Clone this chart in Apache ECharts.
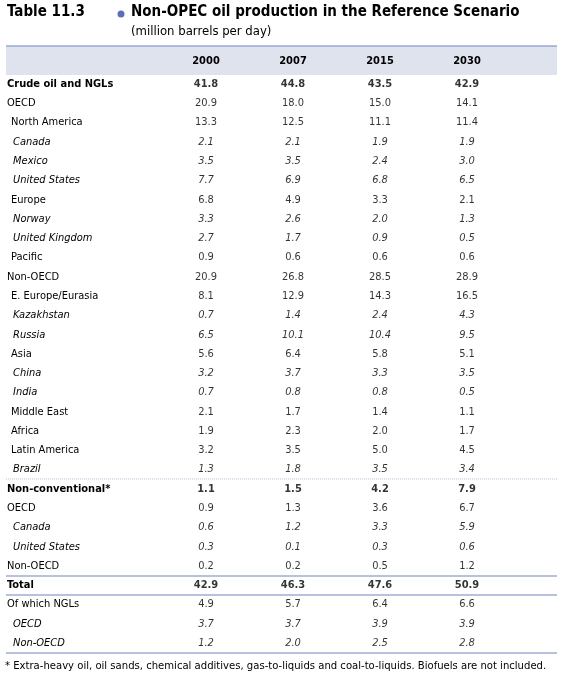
<!DOCTYPE html>
<html><head><meta charset="utf-8">
<script src="https://cdn.jsdelivr.net/npm/echarts@6/dist/echarts.min.js"></script>
<style>html,body{margin:0;padding:0;background:#fff}#c{width:571px;height:685px}</style>
</head><body><div id="c"></div>
<script>
// table data
const years = ['2000', '2007', '2015', '2030'];
const rows = ['Crude oil and NGLs', 'OECD', 'North America', 'Canada', 'Mexico', 'United States',
  'Europe', 'Norway', 'United Kingdom', 'Pacific', 'Non-OECD', 'E. Europe/Eurasia', 'Kazakhstan',
  'Russia', 'Asia', 'China', 'India', 'Middle East', 'Africa', 'Latin America', 'Brazil',
  'Non-conventional*', 'OECD', 'Canada', 'United States', 'Non-OECD', 'Total',
  'Of which NGLs', 'OECD', 'Non-OECD'];
// 0 = plain, 1 = bold, 2 = indented, 3 = indented italic
const rowStyle = [1, 0, 2, 3, 3, 3, 2, 3, 3, 2, 0, 2, 3, 3, 2, 3, 3, 2, 2, 2, 3,
  1, 0, 3, 3, 0, 1, 0, 3, 3];
const v2000 = ['41.8','20.9','13.3','2.1','3.5','7.7','6.8','3.3','2.7','0.9','20.9','8.1','0.7','6.5','5.6','3.2','0.7','2.1','1.9','3.2','1.3','1.1','0.9','0.6','0.3','0.2','42.9','4.9','3.7','1.2'];
const v2007 = ['44.8','18.0','12.5','2.1','3.5','6.9','4.9','2.6','1.7','0.6','26.8','12.9','1.4','10.1','6.4','3.7','0.8','1.7','2.3','3.5','1.8','1.5','1.3','1.2','0.1','0.2','46.3','5.7','3.7','2.0'];
const v2015 = ['43.5','15.0','11.1','1.9','2.4','6.8','3.3','2.0','0.9','0.6','28.5','14.3','2.4','10.4','5.8','3.3','0.8','1.4','2.0','5.0','3.5','4.2','3.6','3.3','0.3','0.5','47.6','6.4','3.9','2.5'];
const v2030 = ['42.9','14.1','11.4','1.9','3.0','6.5','2.1','1.3','0.5','0.6','28.9','16.5','4.3','9.5','5.1','3.5','0.5','1.1','1.7','4.5','3.4','7.9','6.7','5.9','0.6','1.2','50.9','6.6','3.9','2.8'];
const cols = [v2000, v2007, v2015, v2030];

const F = '"DejaVu Sans Condensed", "DejaVu Sans", sans-serif';
const styleKey = ['p', 'b', 'i', 'it'];
const cells = [];
cols.forEach((col, ci) => col.forEach((v, ri) => {
  cells.push({ value: [ci, ri], label: {
    formatter: v,
    fontWeight: rowStyle[ri] === 1 ? 'bold' : 'normal',
    fontStyle: rowStyle[ri] === 3 ? 'italic' : 'normal' } });
}));

const blue = '#6f86c0';
const chart = echarts.init(document.getElementById('c'));
chart.setOption({
  animation: false,
  grid: { left: 162.5, top: 74.4, width: 348, height: 578.4 },
  xAxis: { type: 'category', data: years, position: 'top',
    axisLine: { show: false }, axisTick: { show: false },
    axisLabel: { margin: 8, fontFamily: F, fontSize: 11, fontWeight: 'bold', color: '#000' } },
  yAxis: { type: 'category', data: rows.map((r, i) => i), inverse: true,
    axisLine: { show: false }, axisTick: { show: false },
    axisLabel: { align: 'left', margin: 155.5, fontFamily: F, fontSize: 11, color: '#000',
      formatter: (i) => '{' + styleKey[rowStyle[i]] + '|' + rows[i] + '}',
      rich: {
        p: { fontFamily: F, fontSize: 11 },
        b: { fontFamily: F, fontSize: 11, fontWeight: 'bold' },
        i: { fontFamily: F, fontSize: 11, padding: [0, 0, 0, 4] },
        it: { fontFamily: F, fontSize: 11, fontStyle: 'italic', padding: [0, 0, 0, 6] }
      } } },
  series: [{ type: 'scatter', symbolSize: 0, data: cells, z: 10,
    label: { show: true, position: 'inside', fontFamily: F, fontSize: 11, color: '#000' } }],
  graphic: [
    { type: 'text', left: 7, top: 5, style: { text: 'Table 11.3', font: 'bold 15px ' + F, fill: '#000' } },
    { type: 'circle', shape: { cx: 121, cy: 14, r: 3.5 }, style: { fill: '#5a6fb8' } },
    { type: 'text', left: 131, top: 5, style: { text: 'Non-OPEC oil production in the Reference Scenario', font: 'bold 15px ' + F, fill: '#000' } },
    { type: 'text', left: 131, top: 25, style: { text: '(million barrels per day)', font: '13px ' + F, fill: '#000' } },
    { type: 'rect', shape: { x: 6, y: 46, width: 551, height: 29 }, style: { fill: '#dfe3ee' }, z: -1 },
    { type: 'line', shape: { x1: 6, y1: 46, x2: 557, y2: 46 }, style: { stroke: blue, lineWidth: 1.2 } },
    { type: 'line', shape: { x1: 6, y1: 479, x2: 557, y2: 479 }, style: { stroke: '#b8c2dc', lineWidth: 1, lineDash: [1, 1] } },
    { type: 'line', shape: { x1: 6, y1: 576, x2: 557, y2: 576 }, style: { stroke: blue, lineWidth: 1.2 } },
    { type: 'line', shape: { x1: 6, y1: 595, x2: 557, y2: 595 }, style: { stroke: blue, lineWidth: 1.2 } },
    { type: 'line', shape: { x1: 6, y1: 653, x2: 557, y2: 653 }, style: { stroke: blue, lineWidth: 1.2 } },
    { type: 'text', left: 5, top: 661, style: { text: '* Extra-heavy oil, oil sands, chemical additives, gas-to-liquids and coal-to-liquids. Biofuels are not included.', font: '11.2px ' + F, fill: '#000' } }
  ]
});
</script></body></html>
